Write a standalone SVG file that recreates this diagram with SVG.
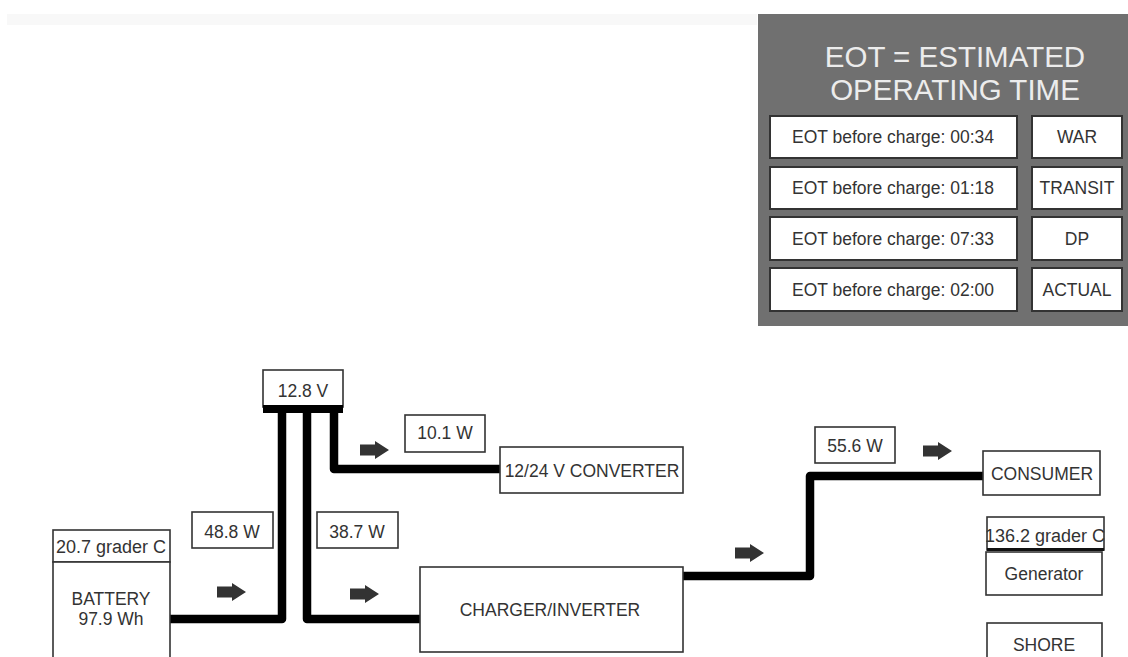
<svg xmlns="http://www.w3.org/2000/svg" width="1128" height="657" viewBox="0 0 1128 657">
<style>
text{font-family:"Liberation Sans",Arial,sans-serif;font-size:17.5px;fill:#333;text-anchor:middle}
.title{font-size:29.5px;fill:#ececec}
.big{font-size:18px}
.pbox{fill:#fff;stroke:#333;stroke-width:2}
.box{fill:#fff;stroke:#333;stroke-width:1.6}
.wire{fill:none;stroke:#000;stroke-width:8.5;stroke-linejoin:round}
</style>
<defs>
<path id="arr" d="M0,-5.5 H15 V-9 L29,0 L15,9 V5.5 H0 Z" fill="#333"/>
</defs>
<rect width="1128" height="657" fill="#fff"/>
<rect x="7" y="14" width="750" height="11" fill="#f8f8f8"/>

<g id="eot-panel">
<rect x="758" y="14" width="370" height="312" fill="#707070"/>
<text class="title" x="955" y="67">EOT = ESTIMATED</text>
<text class="title" x="955" y="100">OPERATING TIME</text>
</g>
<g id="row-war">
<rect class="pbox" x="770" y="116" width="247" height="42"/>
<text x="893" y="143">EOT before charge: 00:34</text>
<rect class="pbox" x="1032" y="116" width="90" height="42"/>
<text x="1077" y="143">WAR</text>
</g>
<g id="row-transit">
<rect class="pbox" x="770" y="167" width="247" height="42"/>
<text x="893" y="194">EOT before charge: 01:18</text>
<rect class="pbox" x="1032" y="167" width="90" height="42"/>
<text x="1077" y="194">TRANSIT</text>
</g>
<g id="row-dp">
<rect class="pbox" x="770" y="217" width="247" height="43"/>
<text x="893" y="245">EOT before charge: 07:33</text>
<rect class="pbox" x="1032" y="217" width="90" height="43"/>
<text x="1077" y="245">DP</text>
</g>
<g id="row-actual">
<rect class="pbox" x="770" y="268" width="247" height="43"/>
<text x="893" y="296">EOT before charge: 02:00</text>
<rect class="pbox" x="1032" y="268" width="90" height="43"/>
<text x="1077" y="296">ACTUAL</text>
</g>

<g id="connectors">
<path class="wire" d="M170,619 H282 V409"/>
<path class="wire" d="M307,409 V619 H420"/>
<path class="wire" d="M334,409 V469 H500"/>
<path class="wire" d="M683,576 H810 V476 H984"/>
<use href="#arr" x="217" y="592"/>
<use href="#arr" x="350" y="594"/>
<use href="#arr" x="360" y="450"/>
<use href="#arr" x="735" y="553"/>
<use href="#arr" x="923" y="451"/>
</g>

<g id="bus">
<rect class="box" x="263" y="370" width="80" height="37"/>
<rect x="263" y="405" width="80" height="8" fill="#000"/>
<text x="303" y="397">12.8 V</text>
</g>
<g id="battery">
<rect class="box" x="53" y="530" width="117" height="32"/>
<text class="big" x="111" y="553">20.7 grader C</text>
<rect class="box" x="53" y="562" width="117" height="100"/>
<text x="111" y="605">BATTERY</text>
<text x="111" y="625">97.9 Wh</text>
</g>
<g id="p-battery">
<rect class="box" x="192" y="512" width="81" height="36"/>
<text x="232" y="538">48.8 W</text>
</g>
<g id="p-charger">
<rect class="box" x="317" y="512" width="81" height="36"/>
<text x="357" y="538">38.7 W</text>
</g>
<g id="p-converter">
<rect class="box" x="405" y="415" width="80" height="37"/>
<text x="445" y="439">10.1 W</text>
</g>
<g id="converter">
<rect class="box" x="500" y="447" width="183" height="46"/>
<text x="592" y="477">12/24 V CONVERTER</text>
</g>
<g id="charger">
<rect class="box" x="420" y="567" width="263" height="85"/>
<text x="550" y="616">CHARGER/INVERTER</text>
</g>
<g id="p-consumer">
<rect class="box" x="815" y="427" width="80" height="36"/>
<text x="855" y="452">55.6 W</text>
</g>
<g id="consumer">
<rect class="box" x="983" y="451" width="117" height="44"/>
<text x="1042" y="480">CONSUMER</text>
</g>
<g id="generator">
<rect class="box" x="987" y="517" width="117" height="33"/>
<rect x="987" y="548" width="117" height="3" fill="#111"/>
<text class="big" x="1045" y="542">136.2 grader C</text>
<rect class="box" x="986" y="552" width="116" height="43"/>
<text x="1044" y="580">Generator</text>
</g>
<g id="shore">
<rect class="box" x="987" y="623" width="115" height="45"/>
<text x="1044" y="651">SHORE</text>
</g>
</svg>
